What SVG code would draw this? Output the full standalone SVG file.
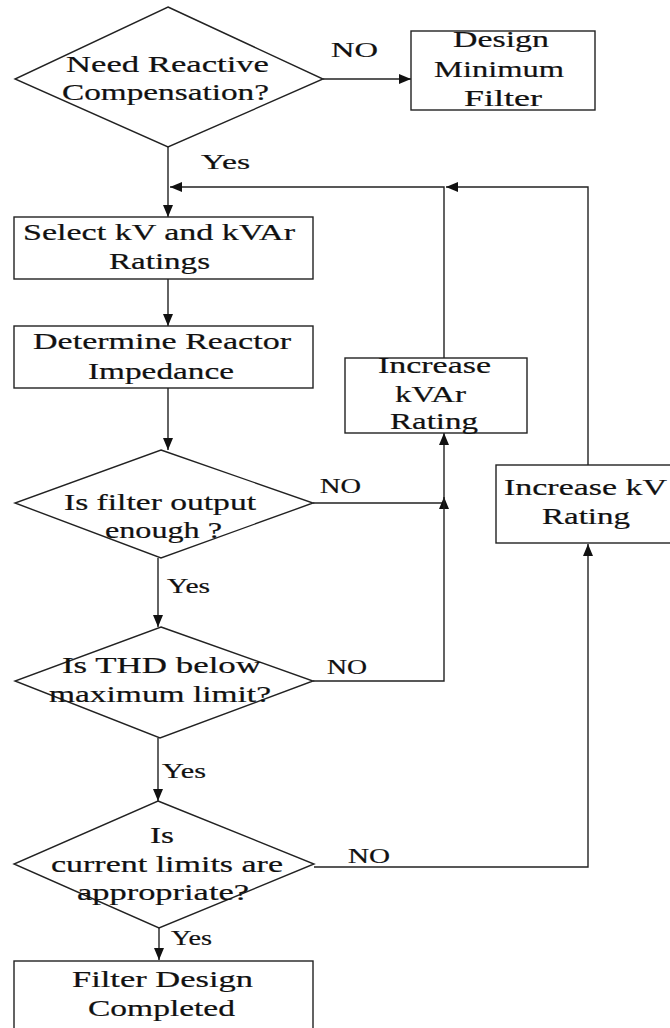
<svg xmlns="http://www.w3.org/2000/svg" width="670" height="1028" viewBox="0 0 670 1028">
<defs>
<style>
.shape{fill:#fff;stroke:#222;stroke-width:1.4}
.t{font-family:"Liberation Serif","Times New Roman",serif;font-size:23px;fill:#111;stroke:#111;stroke-width:0.2}
.lbl{font-family:"Liberation Serif","Times New Roman",serif;font-size:20px;fill:#111;stroke:#111;stroke-width:0.2}
.c{fill:none;stroke:#222;stroke-width:1.4}
</style>
<marker id="ah" markerUnits="userSpaceOnUse" markerWidth="12" markerHeight="10" refX="12" refY="5" orient="auto">
<path d="M0,0 L12,5 L0,10 z" fill="#111"/>
</marker>
</defs>
<rect width="670" height="1028" fill="#fff"/>

<g id="connectors">
<path class="c" d="M323,79 H411" marker-end="url(#ah)"/>
<path class="c" d="M168,147 V217" marker-end="url(#ah)"/>
<path class="c" d="M444,358 V187 H170" marker-end="url(#ah)"/>
<path class="c" d="M588,465 V187 H446" marker-end="url(#ah)"/>
<path class="c" d="M168,279 V326" marker-end="url(#ah)"/>
<path class="c" d="M168,388 V450" marker-end="url(#ah)"/>
<path class="c" d="M313,503 H444 V497" marker-end="url(#ah)"/>
<path class="c" d="M313,681 H444 V433" marker-end="url(#ah)"/>
<path class="c" d="M158,558 V627" marker-end="url(#ah)"/>
<path class="c" d="M158,738 V801" marker-end="url(#ah)"/>
<path class="c" d="M314,867 H588 V544" marker-end="url(#ah)"/>
<path class="c" d="M159,928 V960" marker-end="url(#ah)"/>
<text class="lbl" x="331" y="57" textLength="47" lengthAdjust="spacingAndGlyphs">NO</text>
<text class="lbl" x="201" y="169" textLength="49" lengthAdjust="spacingAndGlyphs">Yes</text>
<text class="lbl" x="320" y="493" textLength="41" lengthAdjust="spacingAndGlyphs">NO</text>
<text class="lbl" x="167" y="593" textLength="43" lengthAdjust="spacingAndGlyphs">Yes</text>
<text class="lbl" x="327" y="674" textLength="40" lengthAdjust="spacingAndGlyphs">NO</text>
<text class="lbl" x="162" y="778" textLength="44" lengthAdjust="spacingAndGlyphs">Yes</text>
<text class="lbl" x="348" y="863" textLength="42" lengthAdjust="spacingAndGlyphs">NO</text>
<text class="lbl" x="171" y="945" textLength="41" lengthAdjust="spacingAndGlyphs">Yes</text>
</g>

<g id="need-reactive">
<polygon class="shape" points="168,7 323,79 168,147 15,79"/>
<text class="t" x="66" y="72" textLength="203" lengthAdjust="spacingAndGlyphs">Need Reactive</text>
<text class="t" x="62" y="100" textLength="207" lengthAdjust="spacingAndGlyphs">Compensation?</text>
</g>

<g id="design-minimum">
<rect class="shape" x="411" y="31" width="184" height="79"/>
<text class="t" x="453" y="47" textLength="96" lengthAdjust="spacingAndGlyphs">Design</text>
<text class="t" x="434" y="77" textLength="130" lengthAdjust="spacingAndGlyphs">Minimum</text>
<text class="t" x="464" y="106" textLength="78" lengthAdjust="spacingAndGlyphs">Filter</text>
</g>

<g id="select-ratings">
<rect class="shape" x="14" y="217" width="299" height="62"/>
<text class="t" x="23" y="240" textLength="272" lengthAdjust="spacingAndGlyphs">Select kV and kVAr</text>
<text class="t" x="109" y="269" textLength="101" lengthAdjust="spacingAndGlyphs">Ratings</text>
</g>

<g id="determine-reactor">
<rect class="shape" x="14" y="326" width="299" height="62"/>
<text class="t" x="33" y="349" textLength="258" lengthAdjust="spacingAndGlyphs">Determine Reactor</text>
<text class="t" x="88" y="379" textLength="146" lengthAdjust="spacingAndGlyphs">Impedance</text>
</g>

<g id="increase-kvar">
<rect class="shape" x="345" y="358" width="182" height="75"/>
<text class="t" x="378" y="373" textLength="113" lengthAdjust="spacingAndGlyphs">Increase</text>
<text class="t" x="395" y="402" textLength="71" lengthAdjust="spacingAndGlyphs">kVAr</text>
<text class="t" x="390" y="429" textLength="88" lengthAdjust="spacingAndGlyphs">Rating</text>
</g>

<g id="increase-kv">
<rect class="shape" x="496" y="465" width="180" height="78"/>
<text class="t" x="504" y="495" textLength="163" lengthAdjust="spacingAndGlyphs">Increase kV</text>
<text class="t" x="542" y="524" textLength="88" lengthAdjust="spacingAndGlyphs">Rating</text>
</g>

<g id="filter-output">
<polygon class="shape" points="161,450 313,503 161,558 15,503"/>
<text class="t" x="64" y="510" textLength="192" lengthAdjust="spacingAndGlyphs">Is filter output</text>
<text class="t" x="105" y="538" textLength="117" lengthAdjust="spacingAndGlyphs">enough ?</text>
</g>

<g id="thd-limit">
<polygon class="shape" points="161,627 313,681 160,738 15,681"/>
<text class="t" x="62" y="673" textLength="199" lengthAdjust="spacingAndGlyphs">Is THD below</text>
<text class="t" x="49" y="702" textLength="222" lengthAdjust="spacingAndGlyphs">maximum limit?</text>
</g>

<g id="current-limits">
<polygon class="shape" points="158,801 314,864 159,928 14,864"/>
<text class="t" x="150" y="843" textLength="24" lengthAdjust="spacingAndGlyphs">Is</text>
<text class="t" x="51" y="872" textLength="232" lengthAdjust="spacingAndGlyphs">current limits are</text>
<text class="t" x="77" y="900" textLength="172" lengthAdjust="spacingAndGlyphs">appropriate?</text>
</g>

<g id="filter-completed">
<rect class="shape" x="14" y="961" width="299" height="80"/>
<text class="t" x="72" y="987" textLength="181" lengthAdjust="spacingAndGlyphs">Filter Design</text>
<text class="t" x="88" y="1016" textLength="147" lengthAdjust="spacingAndGlyphs">Completed</text>
</g>
</svg>
